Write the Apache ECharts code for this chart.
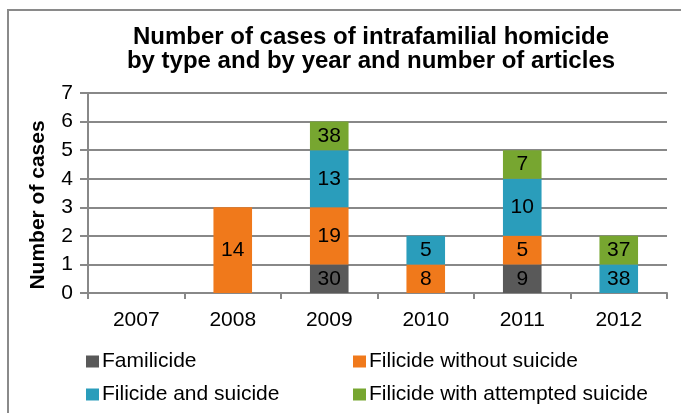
<!DOCTYPE html>
<html>
<head>
<meta charset="utf-8">
<script src="https://cdn.jsdelivr.net/npm/echarts@6/dist/echarts.min.js"></script>
<style>html,body{margin:0;padding:0;background:#fff;}#c{width:681px;height:413px;}</style>
</head>
<body>
<div id="c"></div>
<script>
var years = ['2007', '2008', '2009', '2010', '2011', '2012'];
var seriesNames = ['Familicide', 'Filicide without suicide', 'Filicide and suicide', 'Filicide with attempted suicide'];
var familicide = [null, null, 1, null, 1, null];
var filicideWithout = [null, 3, 2, 1, 1, null];
var filicideAnd = [null, null, 2, 1, 2, 1];
var filicideAttempted = [null, null, 1, null, 1, 1];
var articlesFamilicide = [null, null, 30, null, 9, null];
var articlesWithout = [null, 14, 19, 8, 5, null];
var articlesAnd = [null, null, 13, 5, 10, 38];
var articlesAttempted = [null, null, 38, null, 7, 37];
var yTicks = [0, 1, 2, 3, 4, 5, 6, 7];

var colors = ['#595959', '#F0791B', '#2A9DBB', '#77A630'];
var values = [familicide, filicideWithout, filicideAnd, filicideAttempted];
var articles = [articlesFamilicide, articlesWithout, articlesAnd, articlesAttempted];
var font = 'Liberation Sans, Arial, sans-serif';

var chart = echarts.init(document.getElementById('c'));
var series = seriesNames.map(function (name, i) {
  return {
    name: name,
    type: 'bar',
    stack: 'total',
    barWidth: '40%',
    data: values[i],
    itemStyle: { color: colors[i] },
    label: {
      show: true,
      position: 'inside',
      color: '#000',
      fontSize: 21,
      fontFamily: font,
      formatter: function (p) {
        var a = articles[i][p.dataIndex];
        return a == null ? '' : String(a);
      }
    }
  };
});

var legendPos = [[81, 346], [348, 346], [81, 379], [348, 379]];
var legends = seriesNames.map(function (name, i) {
  return {
    data: [name],
    left: legendPos[i][0],
    top: legendPos[i][1],
    icon: 'rect',
    itemWidth: 13,
    itemHeight: 12,
    itemGap: 0,
    textStyle: { fontSize: 21, color: '#000', fontFamily: font, padding: [0, 0, 0, -2] },
    selectedMode: false
  };
});

chart.setOption({
  animation: false,
  color: colors,
  title: {
    text: 'Number of cases of intrafamilial homicide\nby type and by year and number of articles',
    left: 366,
    textAlign: 'center',
    top: 20,
    textStyle: { fontSize: 24, fontWeight: 'bold', color: '#000', fontFamily: font, lineHeight: 24 }
  },
  legend: legends,
  grid: { left: 88, right: 14, top: 93, bottom: 120 },
  xAxis: {
    type: 'category',
    data: years,
    axisLine: { lineStyle: { color: '#888', width: 2 } },
    axisTick: { show: true, inside: false, length: 6, lineStyle: { color: '#888', width: 2 } },
    axisLabel: { fontSize: 21, color: '#000', fontFamily: font, margin: 17 }
  },
  yAxis: {
    type: 'value',
    min: 0,
    max: 7,
    interval: 1,
    name: 'Number of cases',
    nameLocation: 'middle',
    nameGap: 39,
    nameRotate: 90,
    nameTextStyle: { fontSize: 21, fontWeight: 'bold', color: '#000', fontFamily: font, padding: [0, 24, 0, 0] },
    axisLine: { show: true, lineStyle: { color: '#888', width: 2 } },
    axisTick: { show: true, length: 8, lineStyle: { color: '#888', width: 2 } },
    axisLabel: {
      fontSize: 21, color: '#000', fontFamily: font, margin: 15,
      formatter: function (v) { return yTicks.indexOf(v) >= 0 ? String(v) : ''; }
    },
    splitLine: { lineStyle: { color: '#888', width: 2 } }
  },
  graphic: [{
    type: 'rect',
    shape: { x: 8, y: 10, width: 690, height: 420 },
    style: { fill: 'none', stroke: '#8a8a8a', lineWidth: 2 },
    silent: true
  }],
  series: series
});
</script>
</body>
</html>
